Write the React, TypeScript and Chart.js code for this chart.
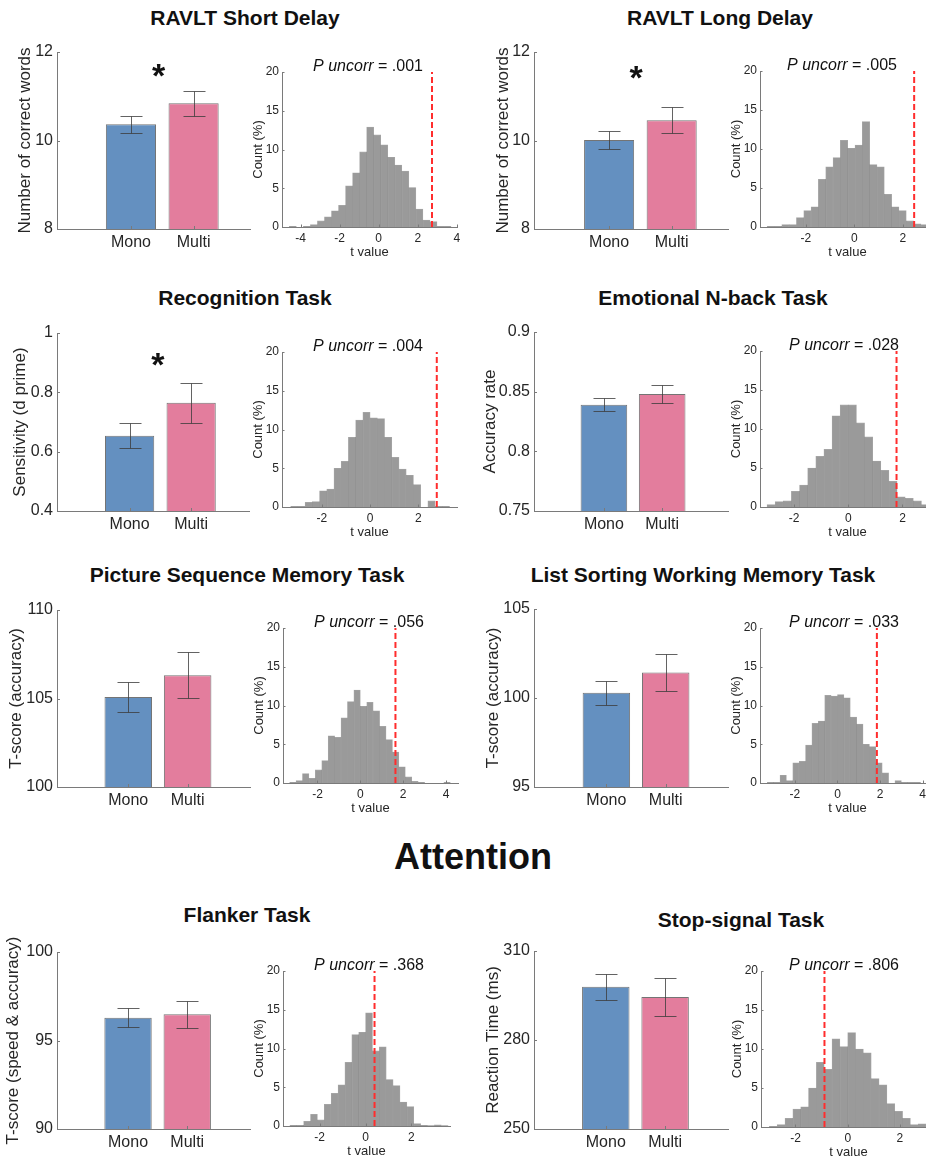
import React, { useEffect, useRef } from 'react';
import { Chart, registerables } from 'chart.js';

Chart.register(...registerables);

const FONT = "'Liberation Sans', Arial, Helvetica, sans-serif";
Chart.defaults.font.family = FONT;

// ================= DATA =================
const groups = ['Mono', 'Multi'];
const groupPositions = [1, 2];
const groupColors = ['#6490c0', '#e37d9d'];

const panelTitles = [
  'RAVLT Short Delay',
  'RAVLT Long Delay',
  'Recognition Task',
  'Emotional N-back Task',
  'Picture Sequence Memory Task',
  'List Sorting Working Memory Task',
  'Flanker Task',
  'Stop-signal Task',
];
const sectionTitle = 'Attention';

const yAxisLabels = [
  'Number of correct words',
  'Number of correct words',
  'Sensitivity (d prime)',
  'Accuracy rate',
  'T-score (accuracy)',
  'T-score (accuracy)',
  'T-score (speed & accuracy)',
  'Reaction Time (ms)',
];

// bar-chart y ticks
const yTicksShortDelay = [8, 10, 12];
const yTicksLongDelay = [8, 10, 12];
const yTicksRecognition = [0.4, 0.6, 0.8, 1];
const yTicksNback = [0.75, 0.8, 0.85, 0.9];
const yTicksPicSeq = [100, 105, 110];
const yTicksListSort = [95, 100, 105];
const yTicksFlanker = [90, 95, 100];
const yTicksStopSignal = [250, 280, 310];

// group means and standard errors (Mono, Multi)
const meansShortDelay = [10.37, 10.84];
const errsShortDelay = [0.19, 0.285];
const meansLongDelay = [10.01, 10.46];
const errsLongDelay = [0.2, 0.29];
const meansRecognition = [0.654, 0.765];
const errsRecognition = [0.043, 0.067];
const meansNback = [0.839, 0.848];
const errsNback = [0.0053, 0.0075];
const meansPicSeq = [105.09, 106.32];
const errsPicSeq = [0.85, 1.28];
const meansListSort = [100.3, 101.43];
const errsListSort = [0.67, 1.03];
const meansFlanker = [96.28, 96.48];
const errsFlanker = [0.53, 0.75];
const meansStopSignal = [297.99, 294.5];
const errsStopSignal = [4.4, 6.4];

// significance markers [x, y] in data units
const starShortDelay = [1.44, 11.64];
const starLongDelay = [1.43, 11.6];
const starRecognition = [1.46, 0.92];

// permutation histograms
const countTicks = [0, 5, 10, 15, 20];
const pValues = ['.001', '.005', '.004', '.028', '.056', '.033', '.368', '.806'];
const observedT = [2.73, 2.47, 2.77, 1.78, 1.64, 1.85, 0.39, -0.89];

const tTicksShortDelay = [-4, -2, 0, 2, 4];
const tTicksLongDelay = [-2, 0, 2];
const tTicksRecognition = [-2, 0, 2];
const tTicksNback = [-2, 0, 2];
const tTicksPicSeq = [-2, 0, 2, 4];
const tTicksListSort = [-2, 0, 2, 4];
const tTicksFlanker = [-2, 0, 2];
const tTicksStopSignal = [-2, 0, 2];

const binStartShortDelay = -4.936;
const binWidthShortDelay = 0.36;
const countsShortDelay = [0, 0.1, 0, 0.1, 0.3, 0.8, 1.3, 2.1, 2.8, 5.3, 7.0, 9.7, 12.9, 11.9, 10.6, 9.0, 8.0, 7.2, 5.1, 2.3, 0.9, 0.7, 0.1, 0.1];

const binStartLongDelay = -3.594;
const binWidthLongDelay = 0.302;
const countsLongDelay = [0.1, 0.1, 0.3, 0.3, 1.2, 2.1, 2.6, 6.1, 7.7, 8.9, 11.1, 10.1, 10.5, 13.5, 8.0, 7.7, 4.2, 2.6, 2.1, 0.8, 0.4, 0.3];

const binStartRecognition = -3.3;
const binWidthRecognition = 0.3;
const countsRecognition = [0.1, 0.1, 0.6, 0.7, 2.1, 2.3, 5.0, 5.9, 9.0, 11.2, 12.2, 11.5, 11.4, 9.0, 6.4, 4.9, 4.1, 2.9, 0, 0.8, 0.1, 0.1];

const binStartNback = -3.0;
const binWidthNback = 0.3;
const countsNback = [0.3, 0.7, 0.8, 2.0, 2.8, 5.0, 6.5, 7.4, 11.7, 13.1, 13.1, 10.8, 9.0, 5.9, 4.7, 3.3, 1.3, 1.1, 0.8, 0.3];

const binStartPicSeq = -3.3;
const binWidthPicSeq = 0.3;
const countsPicSeq = [0.1, 0.3, 1.2, 0.6, 1.7, 2.9, 6.1, 5.9, 8.4, 10.5, 12.0, 9.9, 10.4, 9.3, 7.3, 5.6, 4.0, 2.1, 0.8, 0.2, 0.1, 0, 0, 0, 0.1];

const binStartListSort = -3.3;
const binWidthListSort = 0.3;
const countsListSort = [0.1, 0.1, 1.0, 0.3, 2.6, 2.8, 4.9, 7.7, 8.0, 11.3, 11.2, 11.4, 11.0, 8.5, 7.6, 5.0, 4.7, 2.6, 1.3, 0, 0.3, 0.1, 0.1, 0.1];

const binStartFlanker = -3.3;
const binWidthFlanker = 0.3;
const countsFlanker = [0.1, 0.1, 0.6, 1.5, 0.8, 2.8, 4.2, 5.3, 8.2, 11.8, 12.1, 14.6, 9.7, 10.2, 6.0, 5.2, 3.1, 2.5, 0.3, 0.1, 0.05, 0.15, 0.05];

const binStartStopSignal = -3.0;
const binWidthStopSignal = 0.3;
const countsStopSignal = [0.1, 0.3, 1.1, 2.3, 2.6, 5.0, 8.3, 7.4, 11.3, 10.3, 12.1, 10.0, 9.5, 6.2, 5.4, 3.0, 2.0, 1.1, 0.3, 0.4];

// tables built from the arrays above
const barPanels = [
  { means: meansShortDelay, errs: errsShortDelay, yTicks: yTicksShortDelay, star: starShortDelay },
  { means: meansLongDelay, errs: errsLongDelay, yTicks: yTicksLongDelay, star: starLongDelay },
  { means: meansRecognition, errs: errsRecognition, yTicks: yTicksRecognition, star: starRecognition },
  { means: meansNback, errs: errsNback, yTicks: yTicksNback, star: null },
  { means: meansPicSeq, errs: errsPicSeq, yTicks: yTicksPicSeq, star: null },
  { means: meansListSort, errs: errsListSort, yTicks: yTicksListSort, star: null },
  { means: meansFlanker, errs: errsFlanker, yTicks: yTicksFlanker, star: null },
  { means: meansStopSignal, errs: errsStopSignal, yTicks: yTicksStopSignal, star: null },
];

const histPanels = [
  { counts: countsShortDelay, start: binStartShortDelay, width: binWidthShortDelay, tTicks: tTicksShortDelay },
  { counts: countsLongDelay, start: binStartLongDelay, width: binWidthLongDelay, tTicks: tTicksLongDelay },
  { counts: countsRecognition, start: binStartRecognition, width: binWidthRecognition, tTicks: tTicksRecognition },
  { counts: countsNback, start: binStartNback, width: binWidthNback, tTicks: tTicksNback },
  { counts: countsPicSeq, start: binStartPicSeq, width: binWidthPicSeq, tTicks: tTicksPicSeq },
  { counts: countsListSort, start: binStartListSort, width: binWidthListSort, tTicks: tTicksListSort },
  { counts: countsFlanker, start: binStartFlanker, width: binWidthFlanker, tTicks: tTicksFlanker },
  { counts: countsStopSignal, start: binStartStopSignal, width: binWidthStopSignal, tTicks: tTicksStopSignal },
];

// ================= LAYOUT (page pixels) =================
const titlePos = [
  [245, 18], [720, 18], [245, 298], [713, 298],
  [247, 575], [703, 575], [247, 915], [741, 920],
];
const sectionPos = [473, 857];

const barLayout = [
  { L: 57, T: 52, R: 250, B: 229, xlim: [-0.18, 2.9], titleX: 25 },
  { L: 534, T: 52, R: 728, B: 229, xlim: [-0.2, 2.9], titleX: 503 },
  { L: 57, T: 333, R: 249, B: 511, xlim: [-0.18, 2.94], titleX: 20 },
  { L: 534, T: 332, R: 728, B: 511, xlim: [-0.2, 3.13], titleX: 490 },
  { L: 57, T: 610, R: 250, B: 787, xlim: [-0.2, 3.05], titleX: 16 },
  { L: 534, T: 609, R: 728, B: 787, xlim: [-0.22, 3.05], titleX: 493 },
  { L: 57, T: 952, R: 250, B: 1129, xlim: [-0.2, 3.06], titleX: 13 },
  { L: 534, T: 951, R: 728, B: 1129, xlim: [-0.21, 3.06], titleX: 493 },
];

const histLayout = [
  { L: 282, T: 72, R: 457, B: 227, xlim: [-4.95, 4.01], pX: 368 },
  { L: 760, T: 71, R: 935, B: 227, xlim: [-3.89, 3.33], pX: 842 },
  { L: 282, T: 352, R: 457, B: 507, xlim: [-3.66, 3.61], pX: 368 },
  { L: 760, T: 351, R: 935, B: 507, xlim: [-3.26, 3.2], pX: 844 },
  { L: 283, T: 628, R: 458, B: 783, xlim: [-3.61, 4.56], pX: 369 },
  { L: 760, T: 628, R: 935, B: 783, xlim: [-3.64, 4.58], pX: 844 },
  { L: 283, T: 971, R: 450, B: 1126, xlim: [-3.6, 3.68], pX: 369 },
  { L: 761, T: 971, R: 936, B: 1127, xlim: [-3.32, 3.38], pX: 844 },
];

const AXIS_COLOR = '#7a7a7a';
const TICK_COLOR = '#262626';

// inward (MATLAB-style) tick marks drawn from the scales' own ticks
function drawInwardTicks(chart: any, len: number) {
  const { ctx, chartArea } = chart;
  const x = chart.scales.x;
  const y = chart.scales.y;
  ctx.save();
  ctx.strokeStyle = AXIS_COLOR;
  ctx.lineWidth = 1;
  ctx.beginPath();
  x.ticks.forEach((t: any) => {
    const px = Math.round(x.getPixelForValue(t.value)) + 0.5;
    ctx.moveTo(px, chartArea.bottom);
    ctx.lineTo(px, chartArea.bottom - len);
  });
  y.ticks.forEach((t: any) => {
    const py = Math.round(y.getPixelForValue(t.value)) + 0.5;
    ctx.moveTo(chartArea.left, py);
    ctx.lineTo(chartArea.left + len, py);
  });
  ctx.stroke();
  ctx.restore();
}

function BarBox({ idx }: { idx: number }) {
  const ref = useRef<HTMLCanvasElement | null>(null);
  const g = barLayout[idx];
  const canvasLeft = g.L < 463 ? 0 : 463;
  const yW = g.L - canvasLeft;
  const padTop = 20;
  const padRight = 10;
  const xH = 32;
  const cw = g.R - canvasLeft + padRight;
  const ch = g.B - g.T + padTop + xH;
  const ctop = g.T - padTop;

  useEffect(() => {
    const d = barPanels[idx];
    const canvas = ref.current as HTMLCanvasElement;
    const extras = {
      id: 'barExtras' + idx,
      afterDatasetsDraw(chart: any) {
        const { ctx } = chart;
        const x = chart.scales.x;
        const y = chart.scales.y;
        ctx.save();
        ctx.strokeStyle = 'rgba(60,60,60,0.8)';
        ctx.lineWidth = 1;
        d.means.forEach((m: number, i: number) => {
          const px = Math.round(x.getPixelForValue(groupPositions[i])) + 0.5;
          const y1 = Math.round(y.getPixelForValue(m + d.errs[i])) + 0.5;
          const y2 = Math.round(y.getPixelForValue(m - d.errs[i])) + 0.5;
          const hw = 11;
          ctx.beginPath();
          ctx.moveTo(px, y1);
          ctx.lineTo(px, y2);
          ctx.moveTo(px - hw, y1);
          ctx.lineTo(px + hw, y1);
          ctx.moveTo(px - hw, y2);
          ctx.lineTo(px + hw, y2);
          ctx.stroke();
        });
        if (d.star) {
          const size = 34;
          ctx.fillStyle = '#111';
          ctx.font = `bold ${size}px ${FONT}`;
          ctx.textAlign = 'center';
          ctx.textBaseline = 'alphabetic';
          const sx = x.getPixelForValue(d.star[0]);
          const sy = y.getPixelForValue(d.star[1]);
          ctx.fillText('*', sx, sy + size * 0.56);
        }
        ctx.restore();
        drawInwardTicks(chart, 3);
      },
    };
    const chart = new Chart(canvas, {
      type: 'bar',
      data: {
        datasets: [
          {
            data: d.means.map((m: number, i: number) => ({ x: groupPositions[i], y: m })),
            backgroundColor: groupColors,
            borderColor: 'rgba(70,70,70,0.75)',
            borderWidth: 1,
            categoryPercentage: 0.8,
            barPercentage: 1,
          } as any,
        ],
      },
      options: {
        animation: false,
        responsive: false,
        maintainAspectRatio: false,
        events: [],
        layout: { padding: { top: padTop, right: padRight, left: 0, bottom: 0 } },
        plugins: { legend: { display: false }, tooltip: { enabled: false }, title: { display: false } },
        scales: {
          x: {
            type: 'linear',
            min: g.xlim[0],
            max: g.xlim[1],
            offset: false,
            afterBuildTicks: (s: any) => {
              s.ticks = groupPositions.map((v) => ({ value: v }));
            },
            afterFit: (s: any) => {
              s.height = xH;
            },
            grid: { display: false, drawTicks: false },
            border: { display: true, color: AXIS_COLOR, width: 1 },
            ticks: {
              padding: 4,
              color: TICK_COLOR,
              font: { size: 16, family: FONT },
              maxRotation: 0,
              autoSkip: false,
              callback: (v: any) => {
                const k = groupPositions.indexOf(Number(v));
                return k >= 0 ? groups[k] : '';
              },
            },
          },
          y: {
            type: 'linear',
            min: d.yTicks[0],
            max: d.yTicks[d.yTicks.length - 1],
            afterBuildTicks: (s: any) => {
              s.ticks = d.yTicks.map((v: number) => ({ value: v }));
            },
            afterFit: (s: any) => {
              s.width = yW;
            },
            grid: { display: false, drawTicks: false },
            border: { display: true, color: AXIS_COLOR, width: 1 },
            ticks: {
              padding: 4,
              color: TICK_COLOR,
              font: { size: 16, family: FONT },
              callback: (v: any) => String(v),
            },
            title: {
              display: true,
              text: yAxisLabels[idx],
              color: TICK_COLOR,
              font: { size: 17, family: FONT },
              padding: { top: g.titleX - canvasLeft - 10.2, bottom: 0 },
            },
          },
        },
      } as any,
      plugins: [extras],
    });
    return () => chart.destroy();
  }, []);

  return (
    <canvas
      ref={ref}
      width={cw}
      height={ch}
      style={{ position: 'absolute', left: canvasLeft, top: ctop, width: cw, height: ch }}
    />
  );
}

function HistBox({ idx }: { idx: number }) {
  const ref = useRef<HTMLCanvasElement | null>(null);
  const g = histLayout[idx];
  const yW = 44;
  const canvasLeft = g.L - yW;
  const padTop = 30;
  const padRight = 12;
  const xH = 36;
  const cw = g.R - g.L + yW + padRight;
  const ch = g.B - g.T + padTop + xH;
  const ctop = g.T - padTop;

  useEffect(() => {
    const h = histPanels[idx];
    const canvas = ref.current as HTMLCanvasElement;
    const pLabel = {
      id: 'pLabel' + idx,
      afterDraw(chart: any) {
        const { ctx, chartArea } = chart;
        ctx.save();
        const size = 16;
        const partA = 'P uncorr';
        const partB = ' = ' + pValues[idx];
        ctx.font = `italic ${size}px ${FONT}`;
        const wA = ctx.measureText(partA).width;
        ctx.font = `${size}px ${FONT}`;
        const wB = ctx.measureText(partB).width;
        const cx = g.pX - canvasLeft;
        const x0 = cx - (wA + wB) / 2;
        const by = chartArea.top - 1;
        ctx.fillStyle = '#111';
        ctx.textAlign = 'left';
        ctx.textBaseline = 'alphabetic';
        ctx.font = `italic ${size}px ${FONT}`;
        ctx.fillText(partA, x0, by);
        ctx.font = `${size}px ${FONT}`;
        ctx.fillText(partB, x0 + wA, by);
        ctx.restore();
        drawInwardTicks(chart, 2.5);
      },
    };
    const chart = new Chart(canvas, {
      type: 'bar',
      data: {
        datasets: [
          {
            type: 'bar',
            data: h.counts.map((c: number, i: number) => ({ x: h.start + h.width * (i + 0.5), y: c })),
            backgroundColor: '#9a9a9a',
            borderColor: 'rgba(95,95,95,0.55)',
            borderWidth: 0.7,
            categoryPercentage: 1,
            barPercentage: 1,
            order: 2,
          } as any,
          {
            type: 'line',
            data: [
              { x: observedT[idx], y: countTicks[0] },
              { x: observedT[idx], y: countTicks[countTicks.length - 1] },
            ],
            borderColor: 'rgb(255,45,45)',
            borderWidth: 2,
            borderDash: [6, 3],
            pointRadius: 0,
            fill: false,
            order: 1,
          } as any,
        ],
      },
      options: {
        animation: false,
        responsive: false,
        maintainAspectRatio: false,
        events: [],
        layout: { padding: { top: padTop, right: padRight, left: 0, bottom: 0 } },
        plugins: { legend: { display: false }, tooltip: { enabled: false }, title: { display: false } },
        scales: {
          x: {
            type: 'linear',
            min: g.xlim[0],
            max: g.xlim[1],
            offset: false,
            afterBuildTicks: (s: any) => {
              s.ticks = h.tTicks.map((v: number) => ({ value: v }));
            },
            afterFit: (s: any) => {
              s.height = xH;
            },
            grid: { display: false, drawTicks: false },
            border: { display: true, color: AXIS_COLOR, width: 1 },
            ticks: {
              padding: 4,
              color: TICK_COLOR,
              font: { size: 12, family: FONT },
              maxRotation: 0,
              autoSkip: false,
              callback: (v: any) => String(v),
            },
            title: {
              display: true,
              text: 't value',
              color: TICK_COLOR,
              font: { size: 13, family: FONT },
              padding: { top: 0, bottom: 3.2 },
            },
          },
          y: {
            type: 'linear',
            min: countTicks[0],
            max: countTicks[countTicks.length - 1],
            afterBuildTicks: (s: any) => {
              s.ticks = countTicks.map((v) => ({ value: v }));
            },
            afterFit: (s: any) => {
              s.width = yW;
            },
            grid: { display: false, drawTicks: false },
            border: { display: true, color: AXIS_COLOR, width: 1 },
            ticks: {
              padding: 3,
              color: TICK_COLOR,
              font: { size: 12, family: FONT },
              callback: (v: any) => String(v),
            },
            title: {
              display: true,
              text: 'Count (%)',
              color: TICK_COLOR,
              font: { size: 13, family: FONT },
              padding: { top: 12.2, bottom: 0 },
            },
          },
        },
      } as any,
      plugins: [pLabel],
    });
    return () => chart.destroy();
  }, []);

  return (
    <canvas
      ref={ref}
      width={cw}
      height={ch}
      style={{ position: 'absolute', left: canvasLeft, top: ctop, width: cw, height: ch }}
    />
  );
}

export default function App() {
  return (
    <div
      style={{
        position: 'absolute',
        left: 0,
        top: 0,
        width: 926,
        height: 1158,
        overflow: 'hidden',
        background: '#ffffff',
        fontFamily: FONT,
      }}
    >
      {panelTitles.map((t, i) => (
        <div
          key={'t' + i}
          style={{
            position: 'absolute',
            left: titlePos[i][0] - 250,
            top: titlePos[i][1] - 12,
            width: 500,
            height: 24,
            lineHeight: '24px',
            textAlign: 'center',
            fontWeight: 'bold',
            fontSize: 21,
            color: '#111',
            whiteSpace: 'nowrap',
          }}
        >
          {t}
        </div>
      ))}
      <div
        style={{
          position: 'absolute',
          left: sectionPos[0] - 200,
          top: sectionPos[1] - 20,
          width: 400,
          height: 40,
          lineHeight: '40px',
          textAlign: 'center',
          fontWeight: 'bold',
          fontSize: 36,
          color: '#111',
        }}
      >
        {sectionTitle}
      </div>
      {barPanels.map((_, i) => (
        <BarBox key={'b' + i} idx={i} />
      ))}
      {histPanels.map((_, i) => (
        <HistBox key={'h' + i} idx={i} />
      ))}
    </div>
  );
}
